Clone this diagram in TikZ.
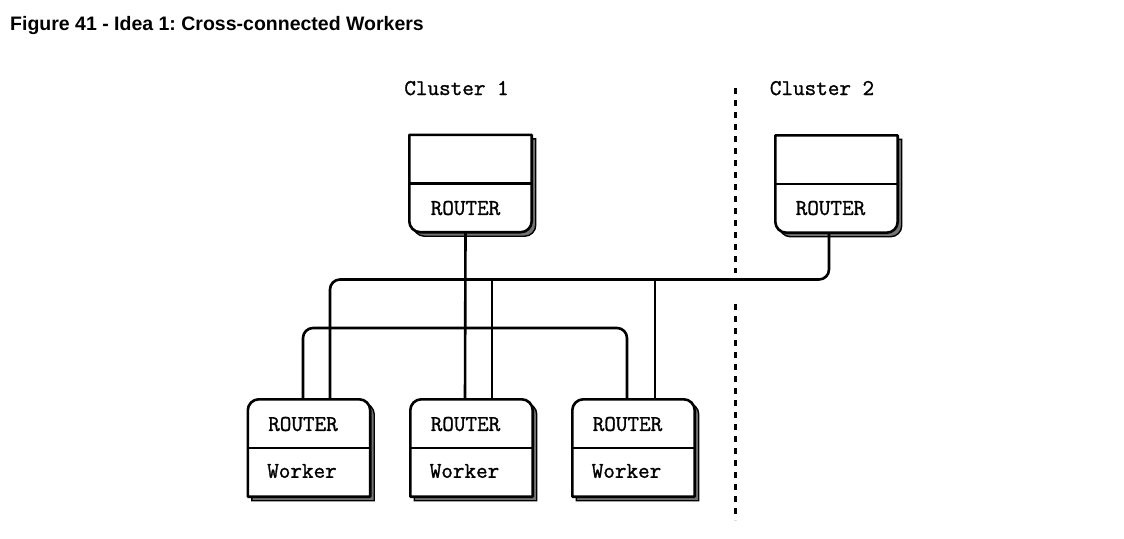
\documentclass[tikz,border=0pt]{standalone}
\usepackage{fontspec}
\usepackage{tikz}
\usetikzlibrary{positioning}
\newfontfamily\titlefont{Liberation Sans}
\newfontfamily\codefont[FakeBold=1.2]{Latin Modern Mono}
\frenchspacing
\tikzstyle{box} = [minimum width=122pt, minimum height=97pt, inner sep=0pt, draw=none]
\tikzstyle{boxline} = [line width=2.6pt, fill=white, line join=round]
\tikzstyle{boxshadow} = [line width=1.4pt, fill=black!55, transform canvas={xshift=4pt, yshift=-4pt}]
\tikzstyle{wire} = [line width=2.6pt]
\tikzstyle{txt} = [font=\codefont\fontsize{22.5}{26}\selectfont, inner sep=0pt]
\tikzstyle{boundary} = [line width=3pt, dash pattern=on 6pt off 6pt]
% broker box: square top, rounded bottom
\newcommand{\brokerpath}[1]{(#1.west) -- (#1.north west) -- (#1.north east) -- (#1.east) [rounded corners=11pt] -- (#1.south east) -- (#1.south west) -- (#1.west) -- cycle}
% worker box: rounded top, square bottom
\newcommand{\workerpath}[1]{(#1.east) -- (#1.south east) -- (#1.south west) -- (#1.west) [rounded corners=11pt] -- (#1.north west) -- (#1.north east) -- (#1.east) -- cycle}

\begin{document}
\begin{tikzpicture}[x=1pt, y=-1pt]
    \useasboundingbox (0,0) rectangle (1124,538);
    \node[anchor=base west, inner sep=0pt, font=\titlefont\bfseries\fontsize{19.5}{23}\selectfont] (title) at (10,30) {Figure 41 - Idea 1: Cross-connected Workers};

    % boxes
    \node[box] (c1box) at (470.5,183.5) {};
    \node[box] (c2box) at (836.5,184) {};
    \node[box] (w1box) at (309,448) {};
    \node[box] (w2box) at (471.5,448) {};
    \node[box] (w3box) at (633.5,448) {};

    \foreach \b in {c1box,c2box}{
        \draw[boxshadow] \brokerpath{\b};
        \draw[boxline] \brokerpath{\b};
        \draw[line width=2.2pt] (\b.west) -- (\b.east);
    }
    \foreach \b in {w1box,w2box,w3box}{
        \draw[boxshadow] \workerpath{\b};
        \draw[boxline] \workerpath{\b};
        \draw[line width=2.2pt] (\b.west) -- (\b.east);
    }

    % labels
    \node[txt, anchor=base] (c1name) at (456.5,95) {Cluster 1};
    \node[txt, anchor=base] (c2name) at (822,95) {Cluster 2};
    \node[txt] (c1router) at ([xshift=-5pt,yshift=-24.5pt]c1box.center) {ROUTER};
    \node[txt] (c2router) at ([xshift=-6pt,yshift=-24pt]c2box.center) {ROUTER};
    \node[txt] (w1router) at ([xshift=-6pt,yshift=24pt]w1box.center) {ROUTER};
    \node[txt] (w1worker) at ([xshift=-7pt,yshift=-23pt]w1box.center) {Worker};
    \node[txt] (w2router) at ([xshift=-6pt,yshift=24pt]w2box.center) {ROUTER};
    \node[txt] (w2worker) at ([xshift=-7pt,yshift=-23pt]w2box.center) {Worker};
    \node[txt] (w3router) at ([xshift=-6pt,yshift=24pt]w3box.center) {ROUTER};
    \node[txt] (w3worker) at ([xshift=-7pt,yshift=-23pt]w3box.center) {Worker};

    % attach points
    \coordinate (c1a) at ([xshift=-5pt]c1box.south);
    \coordinate (c2a) at ([xshift=-7.5pt]c2box.south);
    \coordinate (w1a) at ([xshift=-6pt]w1box.north);
    \coordinate (w1b) at ([xshift=21pt]w1box.north);
    \coordinate (w2a) at ([xshift=-6.5pt]w2box.north);
    \coordinate (w2b) at ([xshift=20.5pt]w2box.north);
    \coordinate (w3a) at ([xshift=-6.5pt]w3box.north);
    \coordinate (w3b) at ([xshift=21.5pt]w3box.north);
    \coordinate (bus1) at (0,279.5);
    \coordinate (bus2) at (0,328);

    % connections
    \draw[wire] (c1a) -- (w2a);
    \draw[wire, rounded corners=10pt] (c2a) |- (w1b |- bus1) -- (w1b);
    \draw[wire] (w2b) -- (w2b |- bus1);
    \draw[wire] (w3b) -- (w3b |- bus1);
    \draw[wire, rounded corners=10pt] (w1a) |- (w3a |- bus2) -- (w3a);

    % cluster boundary
    \coordinate (edgetop) at (735,88);
    \coordinate (edgegap1) at (735,273);
    \coordinate (edgegap2) at (735,304);
    \coordinate (edgebot) at (735,520);
    \draw[boundary] (edgetop) -- (edgegap1);
    \draw[boundary] (edgegap2) -- (edgebot);
\end{tikzpicture}
\end{document}
